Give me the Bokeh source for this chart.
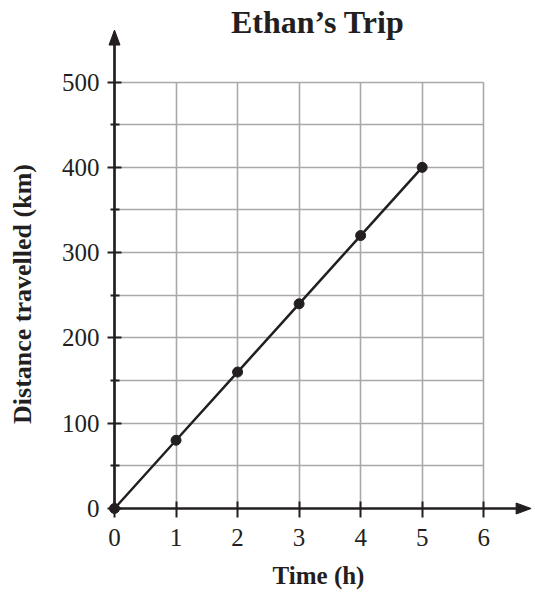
from bokeh.plotting import figure
from bokeh.models import Range1d, FixedTicker
from bokeh.core.properties import value
from bokeh.embed import file_html
from bokeh.resources import INLINE

# ---- data ----
time_h = [0, 1, 2, 3, 4, 5]
distance_km = [0, 80, 160, 240, 320, 400]
x_ticks = [0, 1, 2, 3, 4, 5, 6]
y_ticks = [0, 100, 200, 300, 400, 500]
y_minor_ticks = [50, 150, 250, 350, 450]
y_grid_lines = [0, 50, 100, 150, 200, 250, 300, 350, 400, 450, 500]

title_text = "Ethan\u2019s Trip"
x_label = "Time (h)"
y_label = "Distance travelled (km)"

# ---- style / layout ----
INK = "#231f20"
GRID = "#a7a9ac"
SERIF = "Liberation Serif"

W, H = 535, 592
B_LEFT, B_RIGHT, B_TOP, B_BOTTOM = 114, 13, 79, 84
X_RANGE = (0, 6.63)
Y_RANGE = (0, 503)
X_MAX, Y_MAX = 6, 500
X_ARROW_END, Y_ARROW_END = 6.77, 561
HEAD_LEN_PX, HEAD_HALF_PX = 15, 5.5
TITLE_X, TITLE_Y = 3.30, 570

# pixel -> data conversion factors for the arrow heads
px_x = (X_RANGE[1] - X_RANGE[0]) / (W - B_LEFT - B_RIGHT)
px_y = (Y_RANGE[1] - Y_RANGE[0]) / (H - B_TOP - B_BOTTOM)

p = figure(width=W, height=H,
           x_range=Range1d(*X_RANGE), y_range=Range1d(*Y_RANGE),
           output_backend="svg", toolbar_location=None,
           min_border_left=B_LEFT, min_border_right=B_RIGHT,
           min_border_top=B_TOP, min_border_bottom=B_BOTTOM)
p.outline_line_color = None
p.background_fill_color = "white"
p.border_fill_color = "white"

# grids
p.xgrid.ticker = FixedTicker(ticks=x_ticks)
p.ygrid.ticker = FixedTicker(ticks=y_grid_lines)
for g in (p.xgrid, p.ygrid):
    g.grid_line_color = GRID
    g.grid_line_width = 1.6
p.xgrid.bounds = (-0.01, X_MAX + 0.01)
p.xgrid.cross_bounds = (0, Y_MAX)
p.ygrid.bounds = (-1, Y_MAX + 1)
p.ygrid.cross_bounds = (0, X_MAX)

xa = p.xaxis[0]
ya = p.yaxis[0]
xa.ticker = FixedTicker(ticks=x_ticks)
ya.ticker = FixedTicker(ticks=y_ticks, minor_ticks=y_minor_ticks)
xa.bounds = (0, X_MAX)
ya.bounds = (0, Y_MAX)
xa.axis_label = x_label
ya.axis_label = y_label

for ax in (xa, ya):
    ax.axis_line_color = INK
    ax.axis_line_width = 2.7
    ax.major_tick_line_color = INK
    ax.major_tick_line_width = 2
    ax.minor_tick_line_color = INK
    ax.minor_tick_line_width = 2
    ax.major_label_text_font = SERIF
    ax.major_label_text_font_size = "25px"
    ax.major_label_text_color = INK
    ax.axis_label_text_font = SERIF
    ax.axis_label_text_font_style = "bold"
    ax.axis_label_text_color = INK

xa.axis_label_text_font_size = "25px"
ya.axis_label_text_font_size = "26px"

xa.major_tick_in = 7
xa.major_tick_out = 9
xa.minor_tick_in = 0
xa.minor_tick_out = 0
xa.major_label_standoff = 11
xa.axis_label_standoff = 13

ya.major_tick_in = 7
ya.major_tick_out = 7
ya.minor_tick_in = 5
ya.minor_tick_out = 4
ya.major_label_standoff = 8
ya.axis_label_standoff = 22

# data (overlay level so the origin point is not cut by the frame)
r_line = p.line(time_h, distance_km, line_width=2.5, line_color=INK)
r_pts = p.scatter(time_h, distance_km, size=10, fill_color=INK, line_color=INK)
r_line.level = "overlay"
r_pts.level = "overlay"

# axis arrow shafts and heads
shafts = p.segment(x0=[X_MAX, 0], y0=[0, Y_MAX],
                   x1=[X_ARROW_END - HEAD_LEN_PX * px_x * 0.5, 0],
                   y1=[0, Y_ARROW_END - HEAD_LEN_PX * px_y * 0.5],
                   line_width=2.7, line_color=INK)
shafts.level = "overlay"
head_x = p.patch(
    x=[X_ARROW_END, X_ARROW_END - HEAD_LEN_PX * px_x, X_ARROW_END - HEAD_LEN_PX * px_x],
    y=[0, HEAD_HALF_PX * px_y, -HEAD_HALF_PX * px_y],
    fill_color=INK, line_color=INK, line_width=1)
head_y = p.patch(
    x=[0, -HEAD_HALF_PX * px_x, HEAD_HALF_PX * px_x],
    y=[Y_ARROW_END, Y_ARROW_END - HEAD_LEN_PX * px_y, Y_ARROW_END - HEAD_LEN_PX * px_y],
    fill_color=INK, line_color=INK, line_width=1)
head_x.level = "overlay"
head_y.level = "overlay"

# title
t = p.text(x=[TITLE_X], y=[TITLE_Y], text=[title_text], text_align="center",
           text_baseline="alphabetic", text_font=value(SERIF),
           text_font_size="32px", text_font_style="bold", text_color=INK)
t.level = "overlay"

open("out.html", "w").write(file_html(p, INLINE))
